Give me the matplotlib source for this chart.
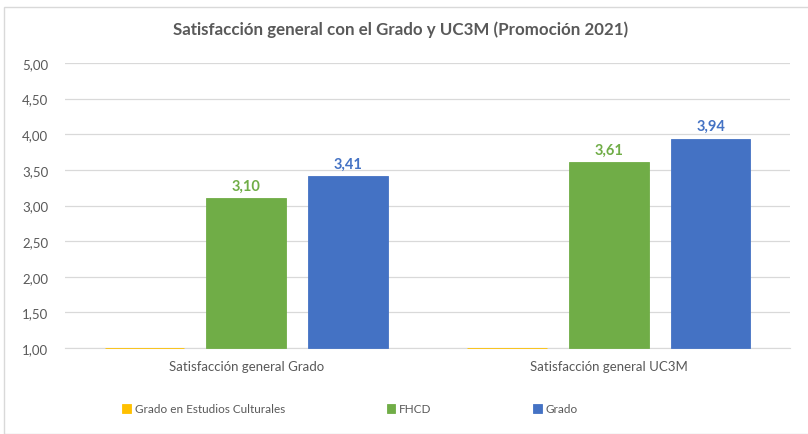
import matplotlib
matplotlib.use("Agg")
import matplotlib.pyplot as plt
from matplotlib.patches import Rectangle
import numpy as np

categories = ["Satisfacción general Grado", "Satisfacción general UC3M"]
series_names = ["Grado en Estudios Culturales", "FHCD", "Grado"]
series_values = {
    "Grado en Estudios Culturales": [1.00, 1.00],
    "FHCD": [3.10, 3.61],
    "Grado": [3.41, 3.94],
}
show_labels = {"Grado en Estudios Culturales": False, "FHCD": True, "Grado": True}
colors = {"Grado en Estudios Culturales": "#FFC000", "FHCD": "#70AD47", "Grado": "#4472C4"}
yticks = [1.0, 1.5, 2.0, 2.5, 3.0, 3.5, 4.0, 4.5, 5.0]
title = "Satisfacción general con el Grado y UC3M (Promoción 2021)"

plt.rcParams["font.family"] = ["Lato", "DejaVu Sans"]
txt = "#595959"

fig = plt.figure(figsize=(8.08, 4.35), dpi=100)
fig.patches.append(Rectangle((4/808, 0), 1.2, (435-8)/435, transform=fig.transFigure,
                             fill=False, edgecolor="#D9D9D9", lw=1.0))
ax = fig.add_axes([65/808, (435-349)/435, (790-65)/808, (349-64)/435])

x = np.arange(len(categories))
bw = 0.22
offs = [-0.281, 0.0, 0.281]
base = 1.0
for name, off in zip(series_names, offs):
    vals = np.array(series_values[name])
    bars = ax.bar(x + off, vals - base, bw, bottom=base, color=colors[name],
                  edgecolor=colors[name], linewidth=0.6, label=name, clip_on=False, zorder=3)
    if show_labels[name]:
        for xi, v in zip(x + off, vals):
            ax.text(xi, v + 0.08, f"{v:.2f}".replace(".", ","), ha="center", va="bottom",
                    color=colors[name], fontsize=10.5, fontweight="bold")

ax.set_xlim(-0.5, 1.5)
ax.set_ylim(1.0, 5.0)
ax.set_yticks(yticks)
ax.set_yticklabels([f"{t:.2f}".replace(".", ",") for t in yticks])
ax.set_xticks(x)
ax.set_xticklabels(categories)
ax.tick_params(axis="both", length=0, colors=txt, labelsize=9.5)
ax.tick_params(axis="y", pad=12)
ax.tick_params(axis="x", pad=9)
ax.grid(axis="y", color="#D9D9D9", lw=0.9, zorder=0)
ax.set_axisbelow(True)
for s in ["top", "right", "left"]:
    ax.spines[s].set_visible(False)
ax.spines["bottom"].set_color("#D9D9D9")

fig.text(401/808, 1 - 30/435, title, ha="center", va="center", fontsize=12.2,
         fontweight="bold", color=txt)

leg = ax.legend(loc="center", bbox_to_anchor=(350/808, 1 - 410/435), bbox_transform=fig.transFigure,
                ncol=3, frameon=False, fontsize=8.5, handlelength=0.75, handleheight=0.75,
                handletextpad=0.3, columnspacing=8.6, labelcolor=txt)

fig.savefig("out.png", dpi=100)
